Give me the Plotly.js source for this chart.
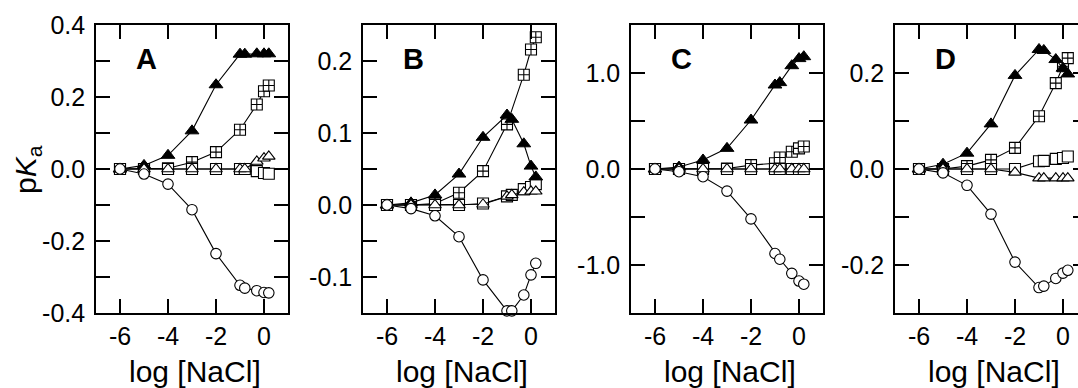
<!DOCTYPE html>
<html><head><meta charset="utf-8">
<script src="https://cdn.plot.ly/plotly-3.0.1.min.js"></script>
<style>html,body{margin:0;padding:0;overflow:hidden;background:#fff;width:1078px;height:388px}#chart{width:1092px;height:388px}</style>
</head><body><div id="chart"></div><script>
// log [NaCl] values (shared x)
const logNaCl = [-6, -5, -4, -3, -2, -1, -0.8, -0.3, 0, 0.2];
const panelLabels = ['A', 'B', 'C', 'D'];
const xTickVals = [-6, -4, -2, 0];
const xTickText = ['-6', '-4', '-2', '0'];

// Panel A
const A_filledTri = [0, 0.01, 0.038, 0.106, 0.234, 0.319, 0.319, 0.32, 0.32, 0.32];
const A_crossSq   = [0, 0, 0.002, 0.019, 0.047, 0.109, null, 0.179, 0.216, 0.232];
const A_openSq    = [0, 0, 0, 0, 0, 0, 0, -0.006, -0.011, -0.013];
const A_openTri   = [0, 0, 0, 0, 0, 0, 0, 0.021, 0.03, 0.035];
const A_circle    = [0, -0.014, -0.042, -0.113, -0.235, -0.323, -0.331, -0.338, -0.343, -0.344];
// Panel B
const B_filledTri = [0, 0.003, 0.014, 0.043, 0.094, 0.125, 0.119, 0.085, 0.054, 0.039];
const B_crossSq   = [0, 0, 0.002, 0.017, 0.047, 0.112, null, 0.181, 0.216, 0.233];
const B_openSq    = [0, 0, 0, 0, 0.002, 0.012, 0.014, 0.022, 0.025, 0.029];
const B_openTri   = [0, 0, 0, 0, 0.001, 0.012, 0.014, 0.018, 0.019, 0.019];
const B_circle    = [0, -0.005, -0.015, -0.044, -0.104, -0.147, -0.147, -0.125, -0.097, -0.081];
// Panel C
const C_filledTri = [0, 0.02, 0.094, 0.215, 0.51, 0.875, 0.90, 1.076, 1.15, 1.17];
const C_crossSq   = [0, 0, 0, 0.005, 0.04, 0.06, 0.12, 0.18, 0.215, 0.235];
const C_openSq    = [0, 0, 0, 0, 0, 0, 0, 0, 0, 0];
const C_openTri   = [0, 0, 0, 0, 0, 0, 0, 0, 0, 0];
const C_circle    = [0, -0.028, -0.08, -0.23, -0.52, -0.88, -0.94, -1.087, -1.167, -1.2];
// Panel D
const D_filledTri = [0, 0.01, 0.033, 0.094, 0.195, 0.249, 0.247, 0.228, 0.21, 0.198];
const D_crossSq   = [0, 0, 0.006, 0.019, 0.044, 0.11, null, 0.179, 0.214, 0.231];
const D_openSq    = [0, 0, 0, 0, 0, 0.016, 0.017, 0.021, 0.023, 0.026];
const D_openTri   = [0, 0, 0, 0, -0.007, -0.019, -0.019, -0.019, -0.019, -0.019];
const D_circle    = [0, -0.008, -0.034, -0.094, -0.194, -0.247, -0.244, -0.228, -0.217, -0.211];

// y tick definitions per panel
const A_yTickVals = [-0.4, -0.3, -0.2, -0.1, 0, 0.1, 0.2, 0.3, 0.4];
const A_yTickText = ['-0.4', '', '-0.2', '', '0.0', '', '0.2', '', '0.4'];
const B_yTickVals = [-0.15, -0.1, -0.05, 0, 0.05, 0.1, 0.15, 0.2, 0.25];
const B_yTickText = ['', '-0.1', '', '0.0', '', '0.1', '', '0.2', ''];
const C_yTickVals = [-1.5, -1.0, -0.5, 0, 0.5, 1.0, 1.5];
const C_yTickText = ['', '-1.0', '', '0.0', '', '1.0', ''];
const D_yTickVals = [-0.3, -0.2, -0.1, 0, 0.1, 0.2, 0.3];
const D_yTickText = ['', '-0.2', '', '0.0', '', '0.2', ''];

const yRanges = [[-0.4, 0.4], [-0.15, 0.25], [-1.5, 1.5], [-0.3, 0.3]];

const panels = [
  {ft: A_filledTri, cs: A_crossSq, os: A_openSq, ot: A_openTri, c: A_circle, tv: A_yTickVals, tt: A_yTickText},
  {ft: B_filledTri, cs: B_crossSq, os: B_openSq, ot: B_openTri, c: B_circle, tv: B_yTickVals, tt: B_yTickText},
  {ft: C_filledTri, cs: C_crossSq, os: C_openSq, ot: C_openTri, c: C_circle, tv: C_yTickVals, tt: C_yTickText},
  {ft: D_filledTri, cs: D_crossSq, os: D_openSq, ot: D_openTri, c: D_circle, tv: D_yTickVals, tt: D_yTickText}
];

const W = 1092, H = 388;
const FONT = '"Liberation Sans", Arial, Helvetica, sans-serif';
const lefts = [96, 363, 631, 895];
const pw = 192, plotTop = 25, plotBottom = 313;

const traces = [];
const layout = {
  width: W, height: H,
  margin: {l: 0, r: 0, t: 0, b: 0},
  paper_bgcolor: '#fff', plot_bgcolor: '#fff',
  showlegend: false,
  font: {family: FONT, color: '#000'},
  annotations: []
};

panels.forEach((p, i) => {
  const n = i + 1;
  const xa = 'x' + n, ya = 'y' + n;
  const base = {x: logNaCl, xaxis: xa, yaxis: ya, mode: 'lines+markers', connectgaps: true,
    line: {color: '#000', width: 1.1}, cliponaxis: false, hoverinfo: 'skip'};
  traces.push(Object.assign({}, base, {y: p.cs, marker: {symbol: 'square-cross', size: 11, color: '#fff', line: {color: '#000', width: 1.1}}}));
  traces.push(Object.assign({}, base, {y: p.os, marker: {symbol: 'square', size: 11, color: '#fff', line: {color: '#000', width: 1.1}}}));
  traces.push(Object.assign({}, base, {y: p.ft, marker: {symbol: 'triangle-up', size: 12, color: '#000', line: {color: '#000', width: 1}}}));
  traces.push(Object.assign({}, base, {y: p.ot, marker: {symbol: 'triangle-up', size: 11, color: '#fff', line: {color: '#000', width: 1.1}}}));
  traces.push(Object.assign({}, base, {y: p.c, marker: {symbol: 'circle', size: 10.5, color: '#fff', line: {color: '#000', width: 1.1}}}));

  const l = lefts[i];
  layout['xaxis' + (n === 1 ? '' : n)] = {
    domain: [l / W, (l + pw) / W], anchor: ya, range: [-7, 1],
    tickvals: xTickVals, ticktext: xTickText,
    ticks: 'inside', ticklen: 14, tickwidth: 1.2, tickcolor: '#000',
    showline: true, linecolor: '#000', linewidth: 1.8, mirror: 'ticks',
    showgrid: false, zeroline: false, fixedrange: true,
    tickfont: {size: 25, color: '#000', family: FONT}
  };
  layout['yaxis' + (n === 1 ? '' : n)] = {
    domain: [1 - plotBottom / H, 1 - plotTop / H], anchor: xa, range: yRanges[i],
    tickvals: p.tv, ticktext: p.tt,
    ticks: 'inside', ticklen: 14, tickwidth: 1.2, tickcolor: '#000',
    showline: true, linecolor: '#000', linewidth: 1.8, mirror: 'ticks',
    showgrid: false, zeroline: false, fixedrange: true, ticklabelstandoff: 4,
    tickfont: {size: 25, color: '#000', family: FONT}
  };
  layout.annotations.push({text: '<b>' + panelLabels[i] + '</b>', xref: 'paper', yref: 'paper',
    x: (l + 50) / W, y: 1 - 59 / H, xanchor: 'center', yanchor: 'middle', showarrow: false,
    font: {size: 29, family: FONT, color: '#000'}});
  layout.annotations.push({text: 'log [NaCl]', xref: 'paper', yref: 'paper',
    x: (l + pw / 2 + 3) / W, y: 1 - 371 / H, xanchor: 'center', yanchor: 'middle', showarrow: false,
    font: {size: 30, family: FONT, color: '#000'}});
});

layout.annotations.push({text: 'p<i>K</i><sub>a</sub>', xref: 'paper', yref: 'paper',
  x: 27 / W, y: 1 - 170 / H, xanchor: 'center', yanchor: 'middle', showarrow: false, textangle: -90,
  font: {size: 30, family: FONT, color: '#000'}});

Plotly.newPlot('chart', traces, layout, {staticPlot: true, displayModeBar: false});
</script></body></html>
